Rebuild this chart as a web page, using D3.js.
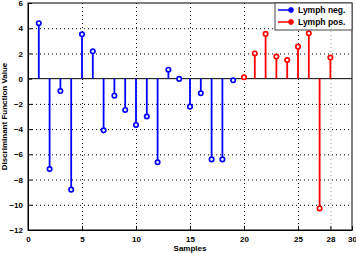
<!DOCTYPE html>
<html>
<head>
<meta charset="utf-8">
<script src="https://cdn.jsdelivr.net/npm/d3@7"></script>
<style>
  body { margin: 0; background: #fff; }
  svg { display: block; font-family: "Liberation Sans", Arial, sans-serif; }
</style>
</head>
<body>
<div id="chart"></div>
<script>
// sample numbers and discriminant values
const negSamples = [1, 2, 3, 4, 5, 6, 7, 8, 9, 10, 11, 12, 13, 14, 15, 16, 17, 18, 19];
const negValues = [4.4, -7.17, -0.98, -8.8, 3.52, 2.17, -4.1, -1.35, -2.48, -3.67, -3.0, -6.63, 0.71, -0.02, -2.22, -1.16, -6.4, -6.4, -0.13];
const posSamples = [20, 21, 22, 23, 24, 25, 26, 27, 28];
const posValues = [0.11, 2.0, 3.55, 1.75, 1.48, 2.54, 3.6, -10.29, 1.67];
const xTicks = [0, 5, 10, 15, 20, 25, 28, 30];
const yTicks = [-12, -10, -8, -6, -4, -2, 0, 2, 4, 6];
const legendItems = [
  { text: 'Lymph neg.', color: '#0000ff' },
  { text: 'Lymph pos.', color: '#ff0000' }
];

const W = 356, H = 253;
const margin = { top: 3, right: 4, bottom: 23, left: 28 };
const width = W - margin.left - margin.right;
const height = H - margin.top - margin.bottom;

const svg = d3.select('#chart').append('svg')
  .attr('width', W)
  .attr('height', H)
  .append('g')
  .attr('transform', `translate(${margin.left},${margin.top})`);

const x = d3.scaleLinear().domain([0, 30]).range([0, width]);
const y = d3.scaleLinear().domain([-12, 6]).range([height, 0]);

// grid
svg.append('g').selectAll('line')
  .data(xTicks.filter(d => d > 0 && d < 30))
  .enter().append('line')
  .attr('x1', d => x(d) + 0.5).attr('x2', d => x(d) + 0.5)
  .attr('y1', 0).attr('y2', height)
  .attr('stroke', d => d === 28 ? '#999' : '#000')
  .attr('stroke-width', 1)
  .attr('stroke-dasharray', '1,3');
svg.append('g').selectAll('line')
  .data(yTicks.filter(d => d > -12 && d < 6 && d !== 0))
  .enter().append('line')
  .attr('y1', d => y(d) + 0.5).attr('y2', d => y(d) + 0.5)
  .attr('x1', 0).attr('x2', width)
  .attr('stroke', '#000')
  .attr('stroke-width', 1)
  .attr('stroke-dasharray', '1,3');

// axes
const xAxis = svg.append('g')
  .attr('transform', `translate(0,${height})`)
  .call(d3.axisBottom(x).tickValues(xTicks).tickSize(-4).tickSizeOuter(0).tickPadding(6));
const yAxis = svg.append('g')
  .call(d3.axisLeft(y).tickValues(yTicks).tickSize(-4).tickSizeOuter(0).tickPadding(5)
    .tickFormat(d => d < 0 ? '\u2212' + Math.abs(d) : d));
[xAxis, yAxis].forEach(a => {
  a.selectAll('text').style('font-size', '8px').style('font-weight', 'bold').attr('fill', '#000');
  a.select('.domain').attr('stroke', '#000');
});

// box
svg.append('rect')
  .attr('x', 0).attr('y', 0)
  .attr('width', width).attr('height', height)
  .attr('fill', 'none').attr('stroke', '#000').attr('stroke-width', 1);

// baseline
svg.append('line')
  .attr('x1', 0).attr('x2', width)
  .attr('y1', y(0)).attr('y2', y(0))
  .attr('stroke', '#000').attr('stroke-width', 1);

const drawStems = (samples, values, color) => {
  const data = samples.map((s, i) => ({ s: s, v: values[i] }));
  const g = svg.append('g');
  g.selectAll('line')
    .data(data).enter().append('line')
    .attr('x1', d => x(d.s)).attr('x2', d => x(d.s))
    .attr('y1', y(0)).attr('y2', d => y(d.v))
    .attr('stroke', color).attr('stroke-width', 1.8);
  g.selectAll('circle')
    .data(data).enter().append('circle')
    .attr('cx', d => x(d.s)).attr('cy', d => y(d.v))
    .attr('r', 2.2)
    .attr('fill', '#fff')
    .attr('stroke', color).attr('stroke-width', 1.7);
};
drawStems(negSamples, negValues, '#0000ff');
drawStems(posSamples, posValues, '#ff0000');

// labels
svg.append('text')
  .attr('x', x(15)).attr('y', height + 21)
  .attr('text-anchor', 'middle')
  .style('font-size', '8px').style('font-weight', 'bold')
  .text('Samples');
svg.append('text')
  .attr('transform', `translate(${-21},${height / 2}) rotate(-90)`)
  .attr('text-anchor', 'middle')
  .style('font-size', '8px').style('font-weight', 'bold')
  .text('Discriminant Function Value');

// legend
const lg = svg.append('g').attr('transform', `translate(${width - 77},0)`);
lg.append('rect')
  .attr('x', 0).attr('y', 0).attr('width', 77).attr('height', 27)
  .attr('fill', '#fff').attr('stroke', '#444').attr('stroke-width', 1);
legendItems.forEach((d, i) => {
  const cy = 7 + i * 12;
  lg.append('line')
    .attr('x1', 3).attr('x2', 18).attr('y1', cy).attr('y2', cy)
    .attr('stroke', d.color).attr('stroke-width', 1.5);
  lg.append('circle')
    .attr('cx', 16).attr('cy', cy).attr('r', 2.4)
    .attr('fill', d.color).attr('stroke', d.color);
  lg.append('text')
    .attr('x', 23).attr('y', cy + 3)
    .style('font-size', '8.5px').style('font-weight', 'bold')
    .text(d.text);
});
</script>
</body>
</html>
